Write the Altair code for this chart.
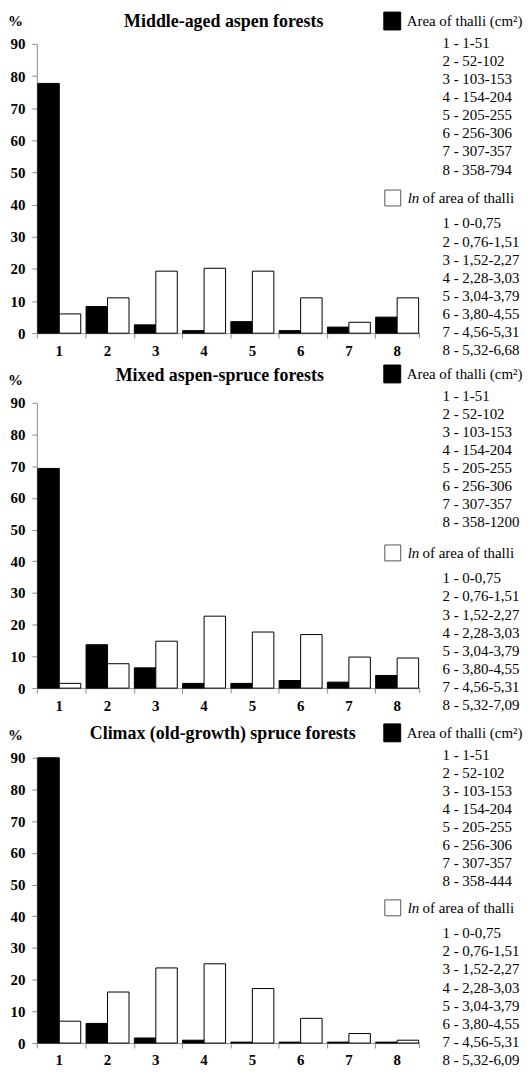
import altair as alt
import pandas as pd

categories = ["1", "2", "3", "4", "5", "6", "7", "8"]
titles = [
    "Middle-aged aspen forests",
    "Mixed aspen-spruce forests",
    "Climax (old-growth) spruce forests",
]
S_AREA = "Area of thalli (cm²)"
S_LN = "ln of area of thalli"

area_pct = [
    [77.7, 8.3, 2.6, 0.8, 3.6, 0.8, 1.9, 5.0],
    [69.3, 13.7, 6.4, 1.5, 1.5, 2.4, 1.9, 4.0],
    [90.0, 6.2, 1.6, 0.9, 0.3, 0.3, 0.3, 0.3],
]
ln_pct = [
    [6.0, 11.0, 19.3, 20.2, 19.3, 11.0, 3.4, 11.0],
    [1.5, 7.7, 14.8, 22.7, 17.7, 16.9, 9.8, 9.5],
    [6.9, 16.1, 23.7, 25.0, 17.2, 7.8, 3.0, 0.9],
]
area_common = ["1 - 1-51", "2 - 52-102", "3 - 103-153", "4 - 154-204",
               "5 - 205-255", "6 - 256-306", "7 - 307-357"]
area_last = ["8 - 358-794", "8 - 358-1200", "8 - 358-444"]
ln_common = ["1 - 0-0,75", "2 - 0,76-1,51", "3 - 1,52-2,27", "4 - 2,28-3,03",
             "5 - 3,04-3,79", "6 - 3,80-4,55", "7 - 4,56-5,31"]
ln_last = ["8 - 5,32-6,68", "8 - 5,32-7,09", "8 - 5,32-6,09"]

# layout settings (pixels, relative to each panel's plot area)
FONT = "Liberation Serif"
W = 385
heights = [291, 287, 287]
title_x = [188, 184, 187]
title_y = [-22, -27, -24]
hdr_y = [-23, -29, -25]
STEP = 18.2
LEG_FS = 15


def one(text):
    return pd.DataFrame({"t": [text]})


def txt(text, x, y, **kw):
    style = dict(font=FONT, fontSize=LEG_FS, align="left", baseline="middle")
    style.update(kw)
    return alt.Chart(one(text)).mark_text(**style).encode(
        x=alt.value(x), y=alt.value(y), text="t:N")


def panel(i):
    df = pd.DataFrame({
        "cat": categories * 2,
        "series": [S_AREA] * 8 + [S_LN] * 8,
        "pct": area_pct[i] + ln_pct[i],
    })
    H = heights[i]
    bars = alt.Chart(df).mark_bar(stroke="black", strokeWidth=1).encode(
        x=alt.X("cat:N", sort=categories, title=None,
                scale=alt.Scale(paddingInner=0.11, paddingOuter=0.02),
                axis=alt.Axis(labelAngle=0, bandPosition=0, tickSize=5,
                              labelPadding=5, labelFontSize=15)),
        xOffset=alt.XOffset("series:N", sort=[S_AREA, S_LN],
                            scale=alt.Scale(paddingInner=0, paddingOuter=0)),
        y=alt.Y("pct:Q", title=None,
                scale=alt.Scale(domain=[0, 90], nice=False),
                axis=alt.Axis(values=list(range(0, 91, 10)), tickSize=5,
                              labelPadding=7, labelFontSize=15)),
        fill=alt.Fill("series:N",
                      scale=alt.Scale(domain=[S_AREA, S_LN], range=["black", "white"]),
                      legend=None),
    )
    end_tick = alt.Chart(one("")).mark_rule(color="#8c8c8c").encode(
        x=alt.value(W), y=alt.value(H), y2=alt.value(H + 5))
    title = txt(titles[i], title_x[i], title_y[i], fontSize=18,
                fontWeight="bold", align="center")
    pct = txt("%", -29, -23, fontSize=15, fontWeight="bold")

    hy = hdr_y[i]
    sq_black = alt.Chart(one("")).mark_rect(fill="black", stroke="black").encode(
        x=alt.value(349), x2=alt.value(366), y=alt.value(hy - 9), y2=alt.value(hy + 9))
    head_area = txt(S_AREA, 372, hy)
    list_area = alt.Chart(one("")).mark_text(
        font=FONT, fontSize=LEG_FS, align="left", baseline="top", lineHeight=STEP
    ).encode(x=alt.value(408), y=alt.value(hy + 22 - 7),
             text=alt.value(area_common + [area_last[i]]))

    ly = H - 136
    sq_white = alt.Chart(one("")).mark_rect(fill="white", stroke="#555555").encode(
        x=alt.value(350), x2=alt.value(366), y=alt.value(ly - 8), y2=alt.value(ly + 8))
    head_ln1 = txt("ln", 373, ly, fontStyle="italic")
    head_ln2 = txt("of area of thalli", 388, ly)
    list_ln = alt.Chart(one("")).mark_text(
        font=FONT, fontSize=LEG_FS, align="left", baseline="top", lineHeight=STEP
    ).encode(x=alt.value(408), y=alt.value(H + 17 - 7 * STEP - 7),
             text=alt.value(ln_common + [ln_last[i]]))
    return alt.layer(bars, end_tick, title, pct, sq_black, head_area, list_area,
                     sq_white, head_ln1, head_ln2, list_ln).properties(width=W, height=H)


chart = alt.vconcat(panel(0), panel(1), panel(2), spacing=70, bounds="flush").properties(
    padding={"left": 0, "top": 0, "right": 0, "bottom": 0}
).configure_view(stroke=None).configure_axis(
    labelFont=FONT, labelFontWeight="bold", labelColor="black",
    domainColor="#8c8c8c", tickColor="#8c8c8c", grid=False,
)

chart.save("out.html", embed_options={"renderer": "svg", "actions": False})
